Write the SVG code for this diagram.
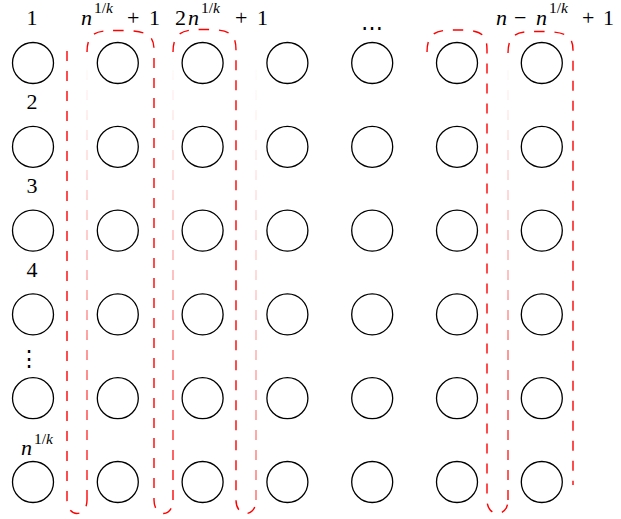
<svg xmlns="http://www.w3.org/2000/svg" width="621" height="519" viewBox="0 0 621 519">
<style>
.node circle{fill:none;stroke:#000;stroke-width:1.3}
.dash{fill:none;stroke:#ff0000;stroke-width:1.4;stroke-dasharray:10 10}
.fade{fill:none;stroke:url(#fade);stroke-width:1.4;stroke-dasharray:10 10}
text{font-family:"Liberation Serif","DejaVu Serif",serif;fill:#000}
.lbl{font-size:22px}
.it{font-style:italic}
.sup{font-size:15.5px}
</style>
<defs>
<linearGradient id="fade" gradientUnits="userSpaceOnUse" x1="0" y1="500" x2="0" y2="55">
<stop offset="0" stop-color="#ff0000" stop-opacity="1"/>
<stop offset="0.5" stop-color="#ff0000" stop-opacity="0.35"/>
<stop offset="1" stop-color="#ff0000" stop-opacity="0"/>
</linearGradient>
</defs>
<rect width="621" height="519" fill="#fff"/>
<g id="connectors">
<path class="dash" d="M67,51 V500 C67,518 87,518 87,500"/>
<path class="fade" d="M87,500 V52"/>
<path class="dash" d="M87,52 C87,30 100,30.5 120,30.5 C146,30.5 154,34 154,50 V500 C154,518 173,518 173,500"/>
<path class="fade" d="M173,500 V52"/>
<path class="dash" d="M173,52 C173,30 186,29.5 205,29.5 C229,29.5 236,33 236,50 V500 C236,518 256,518 256,500"/>
<path class="fade" d="M256,500 V55" opacity="0.6"/>
<path class="dash" d="M427,52 C427,30 440,30 458,30 C480,30 487,33 487,50 V500 C487,518 508,518 508,500"/>
<path class="fade" d="M508,500 V53"/>
<path class="dash" d="M508,53 C508,31 521,31.5 540,31.5 C565,31.5 573,35 573,50 V485"/>
</g>
<g id="nodes">
<g id="n-c1-r1" class="node"><circle cx="33" cy="63" r="20.5"/></g>
<g id="n-c1-r2" class="node"><circle cx="33" cy="146.8" r="20.5"/></g>
<g id="n-c1-r3" class="node"><circle cx="33" cy="230.6" r="20.5"/></g>
<g id="n-c1-r4" class="node"><circle cx="33" cy="314.4" r="20.5"/></g>
<g id="n-c1-r5" class="node"><circle cx="33" cy="398.2" r="20.5"/></g>
<g id="n-c1-r6" class="node"><circle cx="33" cy="482" r="20.5"/></g>
<g id="n-c2-r1" class="node"><circle cx="117.8" cy="63" r="20.5"/></g>
<g id="n-c2-r2" class="node"><circle cx="117.8" cy="146.8" r="20.5"/></g>
<g id="n-c2-r3" class="node"><circle cx="117.8" cy="230.6" r="20.5"/></g>
<g id="n-c2-r4" class="node"><circle cx="117.8" cy="314.4" r="20.5"/></g>
<g id="n-c2-r5" class="node"><circle cx="117.8" cy="398.2" r="20.5"/></g>
<g id="n-c2-r6" class="node"><circle cx="117.8" cy="482" r="20.5"/></g>
<g id="n-c3-r1" class="node"><circle cx="202.6" cy="63" r="20.5"/></g>
<g id="n-c3-r2" class="node"><circle cx="202.6" cy="146.8" r="20.5"/></g>
<g id="n-c3-r3" class="node"><circle cx="202.6" cy="230.6" r="20.5"/></g>
<g id="n-c3-r4" class="node"><circle cx="202.6" cy="314.4" r="20.5"/></g>
<g id="n-c3-r5" class="node"><circle cx="202.6" cy="398.2" r="20.5"/></g>
<g id="n-c3-r6" class="node"><circle cx="202.6" cy="482" r="20.5"/></g>
<g id="n-c4-r1" class="node"><circle cx="287.4" cy="63" r="20.5"/></g>
<g id="n-c4-r2" class="node"><circle cx="287.4" cy="146.8" r="20.5"/></g>
<g id="n-c4-r3" class="node"><circle cx="287.4" cy="230.6" r="20.5"/></g>
<g id="n-c4-r4" class="node"><circle cx="287.4" cy="314.4" r="20.5"/></g>
<g id="n-c4-r5" class="node"><circle cx="287.4" cy="398.2" r="20.5"/></g>
<g id="n-c4-r6" class="node"><circle cx="287.4" cy="482" r="20.5"/></g>
<g id="n-c5-r1" class="node"><circle cx="372.2" cy="63" r="20.5"/></g>
<g id="n-c5-r2" class="node"><circle cx="372.2" cy="146.8" r="20.5"/></g>
<g id="n-c5-r3" class="node"><circle cx="372.2" cy="230.6" r="20.5"/></g>
<g id="n-c5-r4" class="node"><circle cx="372.2" cy="314.4" r="20.5"/></g>
<g id="n-c5-r5" class="node"><circle cx="372.2" cy="398.2" r="20.5"/></g>
<g id="n-c5-r6" class="node"><circle cx="372.2" cy="482" r="20.5"/></g>
<g id="n-c6-r1" class="node"><circle cx="457" cy="63" r="20.5"/></g>
<g id="n-c6-r2" class="node"><circle cx="457" cy="146.8" r="20.5"/></g>
<g id="n-c6-r3" class="node"><circle cx="457" cy="230.6" r="20.5"/></g>
<g id="n-c6-r4" class="node"><circle cx="457" cy="314.4" r="20.5"/></g>
<g id="n-c6-r5" class="node"><circle cx="457" cy="398.2" r="20.5"/></g>
<g id="n-c6-r6" class="node"><circle cx="457" cy="482" r="20.5"/></g>
<g id="n-c7-r1" class="node"><circle cx="541.8" cy="63" r="20.5"/></g>
<g id="n-c7-r2" class="node"><circle cx="541.8" cy="146.8" r="20.5"/></g>
<g id="n-c7-r3" class="node"><circle cx="541.8" cy="230.6" r="20.5"/></g>
<g id="n-c7-r4" class="node"><circle cx="541.8" cy="314.4" r="20.5"/></g>
<g id="n-c7-r5" class="node"><circle cx="541.8" cy="398.2" r="20.5"/></g>
<g id="n-c7-r6" class="node"><circle cx="541.8" cy="482" r="20.5"/></g>
</g>
<g id="labels">
<text class="lbl" x="32" y="25" text-anchor="middle">1</text>
<text class="lbl" x="32" y="109" text-anchor="middle">2</text>
<text class="lbl" x="32" y="193" text-anchor="middle">3</text>
<text class="lbl" x="32" y="277" text-anchor="middle">4</text>
<text class="lbl" x="29" y="366" text-anchor="middle">⋮</text>
<text class="lbl"><tspan class="it" x="21" y="455">n</tspan><tspan class="sup" x="34" y="444">1/</tspan><tspan class="sup it">k</tspan></text>
<text class="lbl"><tspan class="it" x="81" y="25">n</tspan><tspan class="sup" x="94" y="13">1/</tspan><tspan class="sup it">k</tspan><tspan x="127" y="25">+</tspan><tspan x="149" y="25">1</tspan></text>
<text class="lbl"><tspan x="175" y="25">2</tspan><tspan class="it" x="188" y="25">n</tspan><tspan class="sup" x="201" y="13">1/</tspan><tspan class="sup it">k</tspan><tspan x="235" y="25">+</tspan><tspan x="257" y="25">1</tspan></text>
<text class="lbl" x="372" y="35" text-anchor="middle">⋯</text>
<text class="lbl"><tspan class="it" x="496" y="25">n</tspan><tspan x="514" y="25">−</tspan><tspan class="it" x="536" y="25">n</tspan><tspan class="sup" x="549" y="13">1/</tspan><tspan class="sup it">k</tspan><tspan x="582" y="25">+</tspan><tspan x="603" y="25">1</tspan></text>
</g>
</svg>
